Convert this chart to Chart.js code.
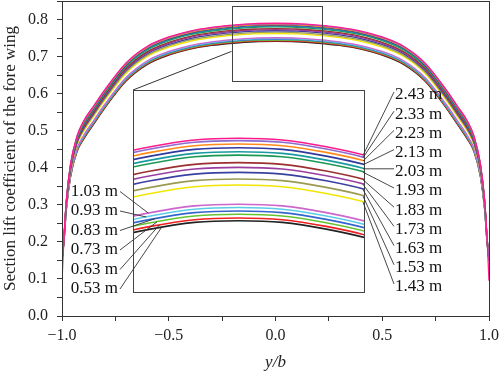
<!DOCTYPE html>
<html>
<head>
<meta charset="utf-8">
<script src="https://cdn.jsdelivr.net/npm/chart.js@4.4.1/dist/chart.umd.min.js"></script>
<style>
  html, body { margin: 0; padding: 0; background: #fff; }
  #wrap { position: relative; width: 500px; height: 373px; }
  #wrap canvas { position: absolute; left: 0; top: 0; }
</style>
</head>
<body>
<div id="wrap">
  <canvas id="mainChart" width="500" height="373"></canvas>
  <canvas id="insetChart" width="500" height="373"></canvas>
</div>
<script>
// spanwise position y/b
const spanPos = [-1, -0.99, -0.98, -0.96, -0.93, -0.9, -0.85, -0.8, -0.7, -0.6, -0.5, -0.4, -0.3, -0.2, -0.1, 0,
  0.1, 0.2, 0.3, 0.4, 0.5, 0.6, 0.7, 0.8, 0.85, 0.9, 0.93, 0.96, 0.98, 0.99, 1];

// section lift coefficient, one array per distance
const cl243 = [0.095, 0.22, 0.31, 0.41, 0.485, 0.525, 0.568, 0.61, 0.683, 0.728, 0.753, 0.769, 0.779, 0.785, 0.789, 0.790, 0.789, 0.785, 0.779, 0.769, 0.753, 0.728, 0.683, 0.61, 0.568, 0.525, 0.485, 0.41, 0.31, 0.22, 0.095];
const cl233 = [0.15, 0.2196, 0.3093, 0.4090, 0.4838, 0.5236, 0.5666, 0.6086, 0.6816, 0.7266, 0.7516, 0.7676, 0.7776, 0.7836, 0.7876, 0.7886, 0.7876, 0.7836, 0.7776, 0.7676, 0.7516, 0.7266, 0.6816, 0.6086, 0.5666, 0.5236, 0.4838, 0.4090, 0.3093, 0.2196, 0.15];
const cl223 = [0.15, 0.2190, 0.3083, 0.4076, 0.4821, 0.5216, 0.5646, 0.6066, 0.6796, 0.7246, 0.7496, 0.7656, 0.7756, 0.7816, 0.7856, 0.7866, 0.7856, 0.7816, 0.7756, 0.7656, 0.7496, 0.7246, 0.6796, 0.6066, 0.5646, 0.5216, 0.4821, 0.4076, 0.3083, 0.2190, 0.15];
const cl213 = [0.15, 0.2183, 0.3072, 0.4061, 0.4802, 0.5194, 0.5624, 0.6044, 0.6774, 0.7224, 0.7474, 0.7634, 0.7734, 0.7794, 0.7834, 0.7844, 0.7834, 0.7794, 0.7734, 0.7634, 0.7474, 0.7224, 0.6774, 0.6044, 0.5624, 0.5194, 0.4802, 0.4061, 0.3072, 0.2183, 0.15];
const cl203 = [0.15, 0.2176, 0.3060, 0.4044, 0.4782, 0.5170, 0.5600, 0.6020, 0.6750, 0.7200, 0.7450, 0.7610, 0.7710, 0.7770, 0.7810, 0.7820, 0.7810, 0.7770, 0.7710, 0.7610, 0.7450, 0.7200, 0.6750, 0.6020, 0.5600, 0.5170, 0.4782, 0.4044, 0.3060, 0.2176, 0.15];
const cl193 = [0.15, 0.2170, 0.3050, 0.4030, 0.4765, 0.5150, 0.5580, 0.6000, 0.6730, 0.7180, 0.7430, 0.7590, 0.7690, 0.7750, 0.7790, 0.7800, 0.7790, 0.7750, 0.7690, 0.7590, 0.7430, 0.7180, 0.6730, 0.6000, 0.5580, 0.5150, 0.4765, 0.4030, 0.3050, 0.2170, 0.15];
const cl183 = [0.15, 0.2157, 0.3028, 0.3999, 0.4727, 0.5105, 0.5535, 0.5955, 0.6685, 0.7135, 0.7385, 0.7545, 0.7645, 0.7705, 0.7745, 0.7755, 0.7745, 0.7705, 0.7645, 0.7545, 0.7385, 0.7135, 0.6685, 0.5955, 0.5535, 0.5105, 0.4727, 0.3999, 0.3028, 0.2157, 0.15];
const cl173 = [0.15, 0.2148, 0.3014, 0.3979, 0.4703, 0.5077, 0.5507, 0.5927, 0.6657, 0.7107, 0.7357, 0.7517, 0.7617, 0.7677, 0.7717, 0.7727, 0.7717, 0.7677, 0.7617, 0.7517, 0.7357, 0.7107, 0.6657, 0.5927, 0.5507, 0.5077, 0.4703, 0.3979, 0.3014, 0.2148, 0.15];
const cl163 = [0.15, 0.2139, 0.2999, 0.3958, 0.4677, 0.5047, 0.5477, 0.5897, 0.6627, 0.7077, 0.7327, 0.7487, 0.7587, 0.7647, 0.7687, 0.7697, 0.7687, 0.7647, 0.7587, 0.7487, 0.7327, 0.7077, 0.6627, 0.5897, 0.5477, 0.5047, 0.4677, 0.3958, 0.2999, 0.2139, 0.15];
const cl153 = [0.15, 0.2127, 0.2979, 0.3931, 0.4644, 0.5008, 0.5438, 0.5858, 0.6588, 0.7038, 0.7288, 0.7448, 0.7548, 0.7608, 0.7648, 0.7658, 0.7648, 0.7608, 0.7548, 0.7448, 0.7288, 0.7038, 0.6588, 0.5858, 0.5438, 0.5008, 0.4644, 0.3931, 0.2979, 0.2127, 0.15];
const cl143 = [0.15, 0.2117, 0.2961, 0.3905, 0.4614, 0.4972, 0.5402, 0.5822, 0.6552, 0.7002, 0.7252, 0.7412, 0.7512, 0.7572, 0.7612, 0.7622, 0.7612, 0.7572, 0.7512, 0.7412, 0.7252, 0.7002, 0.6552, 0.5822, 0.5402, 0.4972, 0.4614, 0.3905, 0.2961, 0.2117, 0.15];
const cl103 = [0.15, 0.2082, 0.2904, 0.3826, 0.4517, 0.4858, 0.5288, 0.5708, 0.6438, 0.6888, 0.7138, 0.7298, 0.7398, 0.7458, 0.7498, 0.7508, 0.7498, 0.7458, 0.7398, 0.7298, 0.7138, 0.6888, 0.6438, 0.5708, 0.5288, 0.4858, 0.4517, 0.3826, 0.2904, 0.2082, 0.15];
const cl093 = [0.15, 0.2076, 0.2894, 0.3812, 0.4500, 0.4838, 0.5268, 0.5688, 0.6418, 0.6868, 0.7118, 0.7278, 0.7378, 0.7438, 0.7478, 0.7488, 0.7478, 0.7438, 0.7378, 0.7278, 0.7118, 0.6868, 0.6418, 0.5688, 0.5268, 0.4838, 0.4500, 0.3812, 0.2894, 0.2076, 0.15];
const cl083 = [0.15, 0.2070, 0.2884, 0.3798, 0.4483, 0.4818, 0.5248, 0.5668, 0.6398, 0.6848, 0.7098, 0.7258, 0.7358, 0.7418, 0.7458, 0.7468, 0.7458, 0.7418, 0.7358, 0.7258, 0.7098, 0.6848, 0.6398, 0.5668, 0.5248, 0.4818, 0.4483, 0.3798, 0.2884, 0.2070, 0.15];
const cl073 = [0.15, 0.2064, 0.2874, 0.3784, 0.4466, 0.4798, 0.5228, 0.5648, 0.6378, 0.6828, 0.7078, 0.7238, 0.7338, 0.7398, 0.7438, 0.7448, 0.7438, 0.7398, 0.7338, 0.7238, 0.7078, 0.6828, 0.6378, 0.5648, 0.5228, 0.4798, 0.4466, 0.3784, 0.2874, 0.2064, 0.15];
const cl063 = [0.15, 0.2058, 0.2863, 0.3768, 0.4447, 0.4776, 0.5206, 0.5626, 0.6356, 0.6806, 0.7056, 0.7216, 0.7316, 0.7376, 0.7416, 0.7426, 0.7416, 0.7376, 0.7316, 0.7216, 0.7056, 0.6806, 0.6356, 0.5626, 0.5206, 0.4776, 0.4447, 0.3768, 0.2863, 0.2058, 0.15];
const cl053 = [0.15, 0.2053, 0.2855, 0.3757, 0.4434, 0.4760, 0.5190, 0.5610, 0.6340, 0.6790, 0.7040, 0.7200, 0.7300, 0.7360, 0.7400, 0.7410, 0.7400, 0.7360, 0.7300, 0.7200, 0.7040, 0.6790, 0.6340, 0.5610, 0.5190, 0.4760, 0.4434, 0.3757, 0.2855, 0.2053, 0.15];

const seriesLabels = ["2.43 m", "2.33 m", "2.23 m", "2.13 m", "2.03 m", "1.93 m", "1.83 m", "1.73 m", "1.63 m", "1.53 m", "1.43 m",
  "1.03 m", "0.93 m", "0.83 m", "0.73 m", "0.63 m", "0.53 m"];
const seriesValues = [cl243, cl233, cl223, cl213, cl203, cl193, cl183, cl173, cl163, cl153, cl143,
  cl103, cl093, cl083, cl073, cl063, cl053];
const seriesColors = ["#ff1a8c", "#8c6ccf", "#ff8c1a", "#2f3a9c", "#1a9aa0", "#1a9955", "#9c3030", "#9a3fa0", "#3a40a0", "#9a9a52", "#f2e600",
  "#cc66cc", "#5ccce6", "#3366cc", "#66c433", "#ee2020", "#222222"];

const xTicksMajor = [-1, -0.5, 0, 0.5, 1];

// zoom window shown in the inset
const zoomBoxX = [-0.206, 0.220];
const zoomBoxY = [0.633, 0.836];
const insetX = [-0.24, 0.286];
const insetY = [0.6986, 0.8187];
const leftTargetX = [-0.205, -0.21, -0.19, -0.185, -0.18, -0.175];

const FONT = "'Liberation Serif', 'Times New Roman', serif";
Chart.defaults.font.family = FONT;
Chart.defaults.color = "#222";

function makeDatasets(width) {
  return seriesValues.map((vals, i) => ({
    label: seriesLabels[i],
    data: spanPos.map((x, j) => ({ x: x, y: vals[j] })),
    borderColor: seriesColors[i],
    borderWidth: width,
    pointRadius: 0,
    fill: false,
    cubicInterpolationMode: "monotone",
  }));
}

function valueAt(vals, x) {
  for (let j = 0; j < spanPos.length - 1; j++) {
    if (x >= spanPos[j] && x <= spanPos[j + 1]) {
      const t = (x - spanPos[j]) / (spanPos[j + 1] - spanPos[j]);
      return vals[j] + t * (vals[j + 1] - vals[j]);
    }
  }
  return vals[vals.length - 1];
}

function fmt(v) {
  const s = Math.abs(v).toFixed(1);
  return v < -1e-9 ? "\u2212" + s : s;
}

const mainFrame = {
  id: "mainFrame",
  afterDraw(chart) {
    const ctx = chart.ctx;
    const a = chart.chartArea;
    const sx = chart.scales.x, sy = chart.scales.y;
    ctx.save();
    ctx.strokeStyle = "#333";
    ctx.lineWidth = 1;
    ctx.strokeRect(Math.round(a.left) + 0.5, Math.round(a.top) + 0.5, Math.round(a.right - a.left), Math.round(a.bottom - a.top));
    // zoom window
    const x0 = Math.round(sx.getPixelForValue(zoomBoxX[0])) + 0.5;
    const x1 = Math.round(sx.getPixelForValue(zoomBoxX[1])) + 0.5;
    const y0 = Math.round(sy.getPixelForValue(zoomBoxY[1])) + 0.5;
    const y1 = Math.round(sy.getPixelForValue(zoomBoxY[0])) + 0.5;
    ctx.strokeStyle = "#444";
    ctx.strokeRect(x0, y0, x1 - x0, y1 - y0);
    ctx.restore();
  },
};

const mainChart = new Chart(document.getElementById("mainChart"), {
  type: "line",
  data: { datasets: makeDatasets(1.3) },
  options: {
    responsive: false,
    animation: false,
    events: [],
    layout: { padding: { left: 0, right: 11, top: 1, bottom: 0 } },
    plugins: { legend: { display: false }, tooltip: { enabled: false } },
    scales: {
      x: {
        type: "linear",
        min: -1,
        max: 1,
        ticks: {
          stepSize: 0.25,
          autoSkip: false,
          maxRotation: 0,
          padding: 5,
          color: "#222",
          font: { size: 16 },
          callback: (v) => (xTicksMajor.some((m) => Math.abs(m - v) < 1e-6) ? fmt(v) : ""),
        },
        grid: { drawOnChartArea: false, drawTicks: true, tickLength: 5, color: "#333" },
        border: { color: "#333", width: 1 },
        title: { display: true, text: "y/b", font: { size: 17, style: "italic" }, color: "#222", padding: 0 },
        afterFit(s) { s.height = 57; s.paddingLeft = 0; s.paddingRight = 0; },
      },
      y: {
        min: 0,
        max: 0.85,
        ticks: {
          stepSize: 0.05,
          autoSkip: false,
          padding: 9,
          color: "#222",
          font: { size: 16 },
          callback: (v) => (Math.round(v * 100) % 10 === 0 ? v.toFixed(1) : ""),
        },
        grid: { drawOnChartArea: false, drawTicks: true, tickLength: 5, color: "#333" },
        border: { color: "#333", width: 1 },
        title: { display: true, text: "Section lift coefficient of the fore wing", font: { size: 17 }, color: "#222", padding: 0 },
        afterFit(s) { s.width = 62; s.paddingTop = 0; s.paddingBottom = 0; },
      },
    },
  },
  plugins: [mainFrame],
});

const insetDeco = {
  id: "insetDeco",
  beforeDraw(chart) {
    const a = chart.chartArea;
    chart.ctx.save();
    chart.ctx.fillStyle = "#fff";
    chart.ctx.fillRect(a.left, a.top, a.right - a.left, a.bottom - a.top);
    chart.ctx.restore();
  },
  afterDraw(chart) {
    const ctx = chart.ctx;
    const a = chart.chartArea;
    const sx = chart.scales.x, sy = chart.scales.y;
    const mx = mainChart.scales.x, my = mainChart.scales.y;
    ctx.save();
    ctx.strokeStyle = "#444";
    ctx.lineWidth = 1;
    ctx.strokeRect(Math.round(a.left) + 0.5, Math.round(a.top) + 0.5, Math.round(a.right - a.left), Math.round(a.bottom - a.top));

    // connector from zoom window to inset
    ctx.strokeStyle = "#333";
    ctx.beginPath();
    ctx.moveTo(a.left, a.top);
    ctx.lineTo(mx.getPixelForValue(zoomBoxX[0]), my.getPixelForValue(0.714));
    ctx.stroke();

    ctx.font = "17px " + FONT;
    ctx.fillStyle = "#111";
    ctx.textBaseline = "middle";
    ctx.lineWidth = 0.9;

    // right-hand labels
    ctx.textAlign = "left";
    for (let i = 0; i < 11; i++) {
      const ty = 95 + i * 19.2;
      ctx.fillText(seriesLabels[i], 395, ty);
      const px = a.right;
      const py = sy.getPixelForValue(valueAt(seriesValues[i], insetX[1]));
      ctx.beginPath();
      ctx.moveTo(394, ty - 3);
      ctx.lineTo(px - 1, py);
      ctx.stroke();
    }

    // left-hand labels
    ctx.textAlign = "right";
    for (let k = 0; k < 6; k++) {
      const i = 11 + k;
      const ty = 191.5 + k * 19.5;
      ctx.fillText(seriesLabels[i], 118, ty);
      const px = sx.getPixelForValue(leftTargetX[k]);
      const py = sy.getPixelForValue(valueAt(seriesValues[i], leftTargetX[k]));
      ctx.beginPath();
      ctx.moveTo(120, ty);
      ctx.lineTo(px, py);
      ctx.stroke();
    }
    ctx.restore();
  },
};

const insetChart = new Chart(document.getElementById("insetChart"), {
  type: "line",
  data: { datasets: makeDatasets(1.6) },
  options: {
    responsive: false,
    animation: false,
    events: [],
    layout: { padding: { left: 133, right: 136, top: 90, bottom: 81 } },
    plugins: { legend: { display: false }, tooltip: { enabled: false } },
    scales: {
      x: { type: "linear", display: false, min: insetX[0], max: insetX[1] },
      y: { display: false, min: insetY[0], max: insetY[1] },
    },
  },
  plugins: [insetDeco],
});
</script>
</body>
</html>
